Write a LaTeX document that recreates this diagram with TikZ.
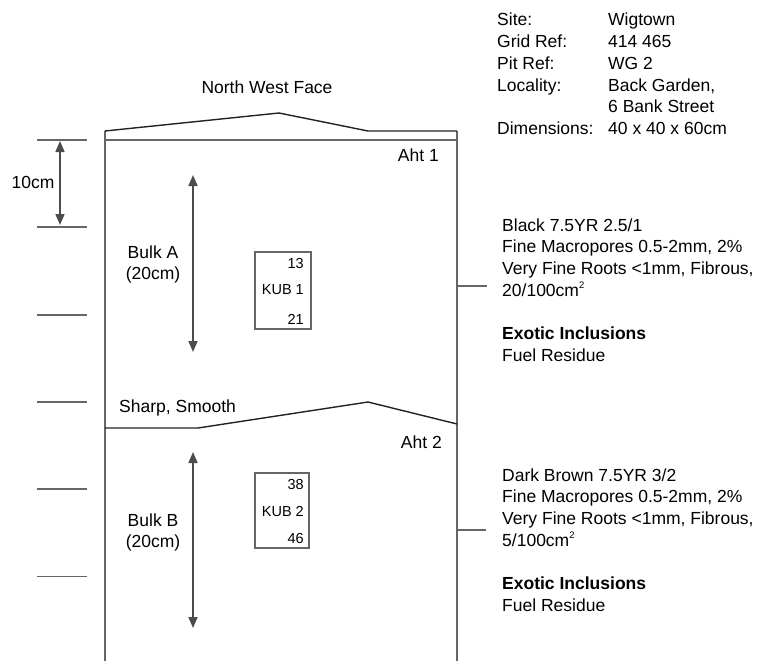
\documentclass[tikz,border=0pt]{standalone}
\usepackage{fontspec}
\setmainfont{Liberation Sans}
\usetikzlibrary{arrows.meta}
\definecolor{wallgrey}{HTML}{666666}
\definecolor{inkdark}{HTML}{222222}
\newcommand{\sqmark}{\raisebox{0.42em}{\fontsize{9.5}{10}\selectfont 2}}
\begin{document}
\begin{tikzpicture}[x=1pt,y=-1pt,
  wall/.style={draw=wallgrey,line width=2.2pt},
  surf/.style={draw=inkdark,line width=1.4pt,line join=miter},
  tickline/.style={draw=wallgrey,line width=1.8pt},
  dimarrow/.style={draw=black!70,line width=1.6pt,>={Triangle[width=9pt,length=11pt]},<->},
  lbl/.style={inner sep=0pt,font=\fontsize{17.5}{21.7}\selectfont},
  smalllbl/.style={inner sep=0pt,font=\fontsize{14.5}{17}\selectfont},
  kubbox/.style={draw=wallgrey,line width=2pt,inner sep=0pt,anchor=north west}]
\useasboundingbox (0,0) rectangle (765,661);

% profile outline
\draw[wall] (105,131) -- (105,661);
\draw[wall] (457,131) -- (457,661);
\draw[wall] (105,140) -- (457,140);
\draw[surf] (105,131) -- (279,113) -- (368,131) -- (457,131);
\draw[surf] (105,428) -- (198,428) -- (368,402) -- (457,424);

% depth ticks
\foreach \k in {0,...,5}{
  \draw[tickline] (37,{140+87.3*\k}) -- (87,{140+87.3*\k});
}

% 10cm dimension
\coordinate (dimtop) at (60,141);
\coordinate (dimbot) at (60,225);
\draw[dimarrow] (dimtop) -- (dimbot);
\node[lbl,anchor=base] (tencm) at (33,188) {10cm};

% titles
\node[lbl,anchor=base] (face) at (267,93) {North West Face};
\node[lbl,anchor=base east] (aht1) at (439,161) {Aht 1};
\node[lbl,anchor=base east] (aht2) at (442,448) {Aht 2};
\node[lbl,anchor=base west] (boundary) at (119,412) {Sharp, Smooth};

% bulk samples
\coordinate (bulkatop) at (193,175);
\coordinate (bulkabot) at (193,352);
\draw[dimarrow] (bulkatop) -- (bulkabot);
\node[lbl,anchor=base] (bulka) at (153,258) {\begin{tabular}[t]{@{}c@{}}Bulk A\\(20cm)\end{tabular}};

\coordinate (bulkbtop) at (193,452);
\coordinate (bulkbbot) at (193,628);
\draw[dimarrow] (bulkbtop) -- (bulkbbot);
\node[lbl,anchor=base] (bulkb) at (153,526) {\begin{tabular}[t]{@{}c@{}}Bulk B\\(20cm)\end{tabular}};

% KUB boxes
\node[kubbox,minimum width=56pt,minimum height=77pt] (kub1) at (254,251) {};
\node[smalllbl,anchor=base east] (kub1top) at (304,268) {13};
\node[smalllbl,anchor=base east] (kub1name) at (304,294) {KUB 1};
\node[smalllbl,anchor=base east] (kub1bot) at (304,324) {21};

\node[kubbox,minimum width=54pt,minimum height=75pt] (kub2) at (254,472) {};
\node[smalllbl,anchor=base east] (kub2top) at (304,489) {38};
\node[smalllbl,anchor=base east] (kub2name) at (304,516) {KUB 2};
\node[smalllbl,anchor=base east] (kub2bot) at (304,543) {46};

% site information
\node[lbl,anchor=base west] (infolabels) at (497,26) {\begin{tabular}[t]{@{}l@{}}Site:\\Grid Ref:\\Pit Ref:\\Locality:\\ \\Dimensions:\end{tabular}};
\node[lbl,anchor=base west] (infovalues) at (608,26) {\begin{tabular}[t]{@{}l@{}}Wigtown\\414 465\\WG 2\\Back Garden,\\6 Bank Street\\40 x 40 x 60cm\end{tabular}};

% horizon descriptions
\coordinate (wall1) at (457,286);
\coordinate (lead1) at (487,286);
\draw[tickline] (wall1) -- (lead1);
\node[lbl,anchor=base west] (desc1) at (502,231) {\begin{tabular}[t]{@{}l@{}}Black 7.5YR 2.5/1\\Fine Macropores 0.5-2mm, 2\%\\Very Fine Roots <1mm, Fibrous,\\20/100cm\sqmark\\ \\\textbf{Exotic Inclusions}\\Fuel Residue\end{tabular}};

\coordinate (wall2) at (457,530);
\coordinate (lead2) at (486,530);
\draw[tickline] (wall2) -- (lead2);
\node[lbl,anchor=base west] (desc2) at (502,481) {\begin{tabular}[t]{@{}l@{}}Dark Brown 7.5YR 3/2\\Fine Macropores 0.5-2mm, 2\%\\Very Fine Roots <1mm, Fibrous,\\5/100cm\sqmark\\ \\\textbf{Exotic Inclusions}\\Fuel Residue\end{tabular}};
\end{tikzpicture}
\end{document}
